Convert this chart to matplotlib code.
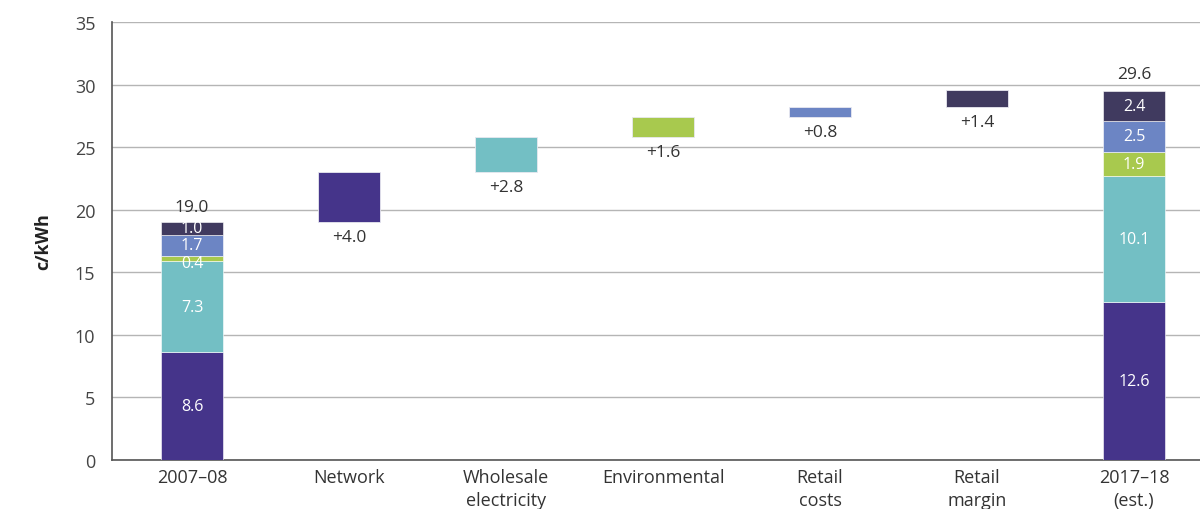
import numpy as np
import matplotlib.pyplot as plt

plt.rcParams['font.family'] = ['Open Sans', 'DejaVu Sans']

# Categories along the x axis
categories = ['2007–08', 'Network', 'Wholesale\nelectricity', 'Environmental',
              'Retail\ncosts', 'Retail\nmargin', '2017–18\n(est.)']

# Stacked components (network, wholesale, environmental, retail costs, retail margin)
start_parts = [8.6, 7.3, 0.4, 1.7, 1.0]
end_parts = [12.6, 10.1, 1.9, 2.5, 2.4]
start_total = 19.0
end_total = 29.6

# Change in each component between the two years
changes = [4.0, 2.8, 1.6, 0.8, 1.4]

colors = ['#45348a', '#73bfc4', '#a8c94e', '#6c85c4', '#403a5f']
width = 0.40

fig = plt.figure(figsize=(12, 5.1), dpi=100)
ax = fig.add_axes([0.0933, 0.096, 0.9067, 0.859])

x = np.arange(len(categories))

# Stacked bars for the two end points
for xpos, parts in [(x[0], start_parts), (x[-1], end_parts)]:
    bottom = 0.0
    for val, col in zip(parts, colors):
        ax.bar(xpos, val, width, bottom=bottom, color=col,
               edgecolor='white', linewidth=0.4, zorder=3)
        ymid = bottom + val / 2
        if val < 0.5:
            ymid = bottom - 0.15  # thin slice: label sits just under it
        ax.text(xpos, ymid, f'{val:.1f}', ha='center', va='center',
                color='white', fontsize=11.5, zorder=4)
        bottom += val

ax.text(x[0], start_total + 0.6, f'{start_total:.1f}', ha='center', va='bottom',
        fontsize=12.5, color='#333333')
ax.text(x[-1], end_total + 0.6, f'{end_total:.1f}', ha='center', va='bottom',
        fontsize=12.5, color='#333333')

# Floating waterfall bars for each change
level = start_total
for i, (dv, col) in enumerate(zip(changes, colors)):
    xpos = x[i + 1]
    ax.bar(xpos, dv, width, bottom=level, color=col,
           edgecolor='#e8e8f0', linewidth=0.6, zorder=3)
    ax.text(xpos, level - 0.55, f'+{dv:.1f}', ha='center', va='top',
            fontsize=12.5, color='#333333')
    level += dv

ax.set_xlim(-0.51, 6.42)
ax.set_ylim(0, 35)
ax.set_yticks(np.arange(0, 36, 5))
ax.set_xticks(x)
ax.set_xticklabels(categories, fontsize=13, color='#333333', linespacing=1.3)
ax.tick_params(axis='y', labelsize=13, labelcolor='#444444', length=0, pad=12)
ax.tick_params(axis='x', length=0, pad=6)

ax.yaxis.grid(True, color='#b5b5b5', linewidth=1.0, zorder=0)
ax.set_axisbelow(True)
for side in ['top', 'right']:
    ax.spines[side].set_visible(False)
for side in ['left', 'bottom']:
    ax.spines[side].set_color('#555555')
    ax.spines[side].set_linewidth(1.2)

ax.set_ylabel('c/kWh', fontsize=13, fontweight='bold', color='#222222', labelpad=16)

fig.savefig('out.png', dpi=100)
